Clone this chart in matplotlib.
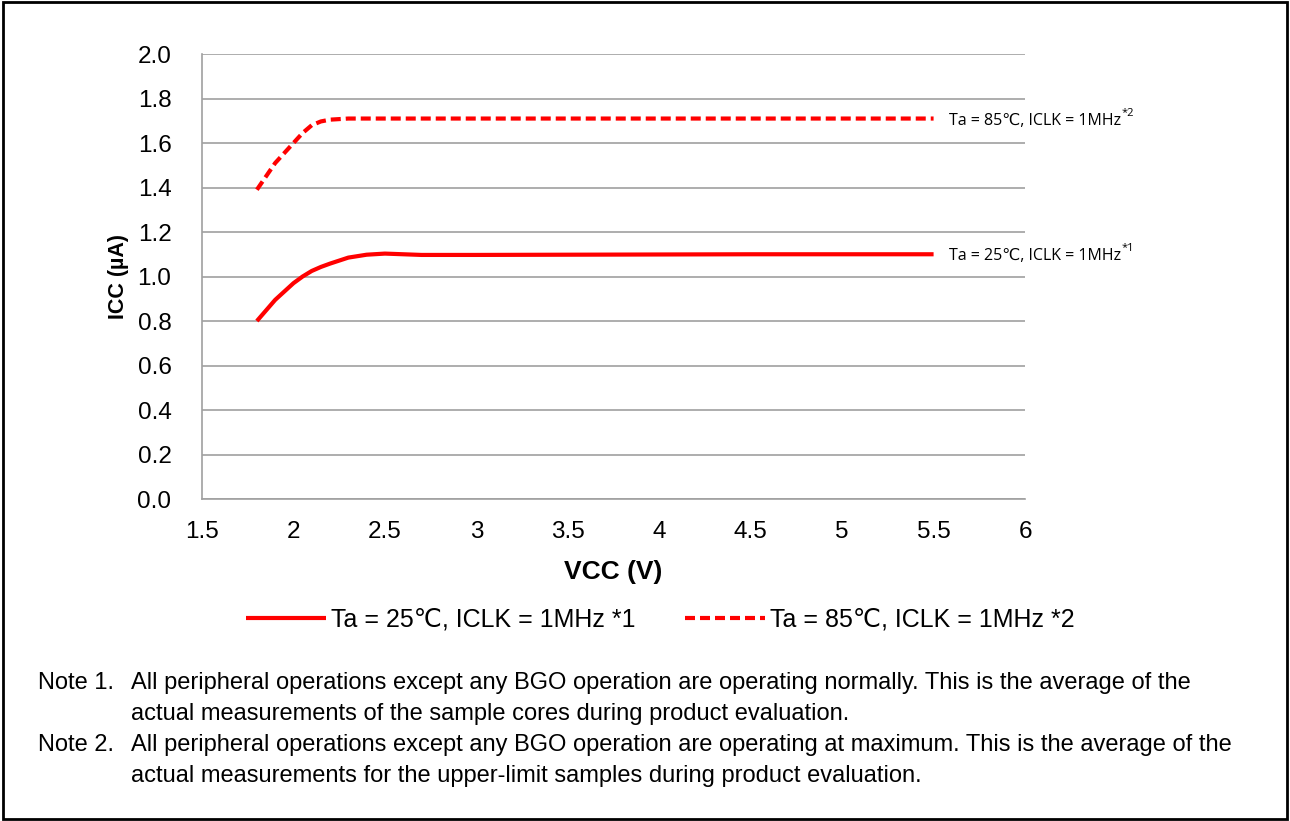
import matplotlib
matplotlib.use("Agg")
import matplotlib.pyplot as plt
from matplotlib.patches import Rectangle

plt.rcParams['font.family'] = ['Liberation Sans', 'DejaVu Sans']

# supply voltage (V) and current (uA)
vcc_25 = [1.8, 1.9, 2.0, 2.05, 2.1, 2.15, 2.2, 2.3, 2.4, 2.5, 2.6, 2.7, 3.0, 3.5, 4.0, 4.5, 5.0, 5.5]
icc_25 = [0.80, 0.895, 0.97, 1.0, 1.025, 1.043, 1.058, 1.085, 1.098, 1.103, 1.10, 1.097,
          1.097, 1.098, 1.099, 1.10, 1.10, 1.10]

vcc_85 = [1.8, 1.9, 2.0, 2.05, 2.1, 2.15, 2.2, 2.3, 2.5, 3.0, 3.5, 4.0, 4.5, 5.0, 5.5]
icc_85 = [1.39, 1.51, 1.60, 1.645, 1.68, 1.697, 1.705, 1.71, 1.71, 1.71, 1.71, 1.71, 1.71, 1.71, 1.71]

label_25 = "Ta = 25\u2103, ICLK = 1MHz *1"
label_85 = "Ta = 85\u2103, ICLK = 1MHz *2"
tag_25, sup_25 = "Ta = 25\u2103, ICLK = 1MHz", "*1"
tag_85, sup_85 = "Ta = 85\u2103, ICLK = 1MHz", "*2"
note_1 = ["All peripheral operations except any BGO operation are operating normally. This is the average of the",
          "actual measurements of the sample cores during product evaluation."]
note_2 = ["All peripheral operations except any BGO operation are operating at maximum. This is the average of the",
          "actual measurements for the upper-limit samples during product evaluation."]

fig = plt.figure(figsize=(12.9, 8.21), dpi=100)
ax = fig.add_axes([0.1566, 0.3922, 0.638, 0.542])

red = '#ff0000'
grid_c = '#a0a0a0'
ax.plot(vcc_25, icc_25, color=red, lw=3, solid_capstyle='butt', solid_joinstyle='round', label=label_25)
ax.plot(vcc_85, icc_85, color=red, lw=3, ls=(0, (2.4, 1.2)), label=label_85)

ax.set_xlim(1.5, 6)
ax.set_ylim(0, 2.0)
ax.set_xticks([1.5, 2, 2.5, 3, 3.5, 4, 4.5, 5, 5.5, 6])
ax.set_xticklabels(['1.5', '2', '2.5', '3', '3.5', '4', '4.5', '5', '5.5', '6'])
ax.set_yticks([i * 0.2 for i in range(11)])
ax.set_yticklabels([f"{i * 0.2:.1f}" for i in range(11)])
ax.tick_params(length=0, labelsize=17.5)
ax.tick_params(axis='y', pad=22)
ax.tick_params(axis='x', pad=16)
ax.grid(axis='y', color=grid_c, lw=1.2)
ax.set_axisbelow(True)
for s in ['top', 'right']:
    ax.spines[s].set_visible(False)
for s in ['left', 'bottom']:
    ax.spines[s].set_color(grid_c)
    ax.spines[s].set_linewidth(1.2)

ax.set_xlabel("VCC (V)", fontsize=19, fontweight='bold', labelpad=12)
ax.set_ylabel("ICC (\u00b5A)", fontsize=15.5, fontweight='bold', labelpad=6)

# inline series labels at the right end
ann_font = ['Open Sans', 'DejaVu Sans']
for tag, sup, xs, ys in [(tag_85, sup_85, vcc_85, icc_85), (tag_25, sup_25, vcc_25, icc_25)]:
    t = ax.annotate(tag, xy=(xs[-1], ys[-1]), xytext=(11, -1.5), textcoords='offset points',
                    va='center', fontsize=11.5, family=ann_font, annotation_clip=False)
    ax.annotate(sup, xy=(1, 0.62), xycoords=t, xytext=(0.5, 0), textcoords='offset points',
                va='bottom', fontsize=8, family=ann_font, annotation_clip=False)

fig.legend(loc='center', bbox_to_anchor=(0.512, 0.245), ncol=2, frameon=False, fontsize=18,
           handlelength=3.2, handletextpad=0.2, columnspacing=2.0)

# notes below
y0 = 1 - 683 / 821
dy = 31 / 821
fs = 17
fig.text(38 / 1290, y0, "Note 1.", fontsize=fs, va='center')
fig.text(131 / 1290, y0, note_1[0], fontsize=fs, va='center')
fig.text(131 / 1290, y0 - dy, note_1[1], fontsize=fs, va='center')
fig.text(38 / 1290, y0 - 2 * dy, "Note 2.", fontsize=fs, va='center')
fig.text(131 / 1290, y0 - 2 * dy, note_2[0], fontsize=fs, va='center')
fig.text(131 / 1290, y0 - 3 * dy, note_2[1], fontsize=fs, va='center')

# outer frame
fig.patches.append(Rectangle((0.002, 0.002), 0.996, 0.996, transform=fig.transFigure,
                             fill=False, edgecolor='black', lw=2))

fig.savefig("out.png", dpi=100)
